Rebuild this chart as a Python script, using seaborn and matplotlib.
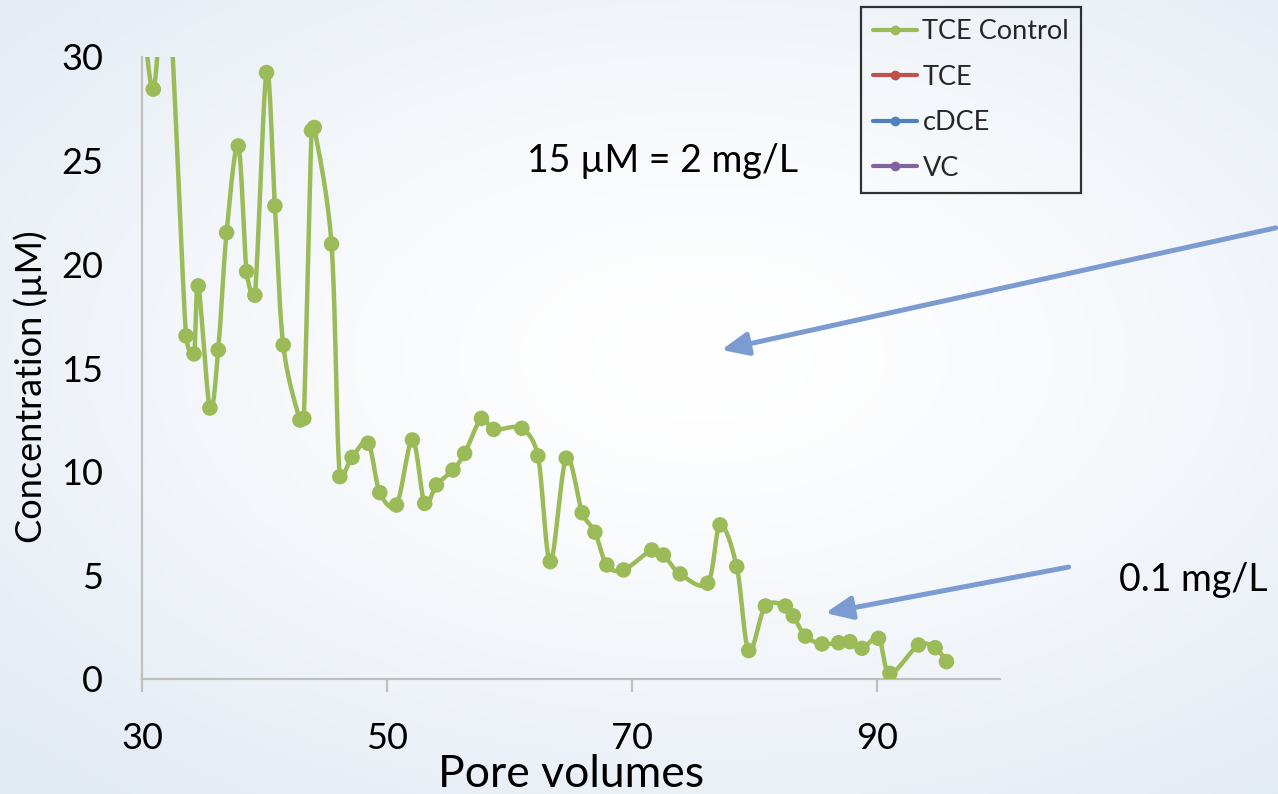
import numpy as np
import pandas as pd
import matplotlib
matplotlib.use("Agg")
import matplotlib.pyplot as plt
from matplotlib.lines import Line2D
import seaborn as sns

# ---------------- data ----------------
pore_volumes = [30.05, 30.92, 32.1, 33.59, 34.24, 34.59, 35.54, 36.22, 36.90, 37.85,
                38.53, 39.21, 40.16, 40.84, 41.52, 42.88, 43.20, 43.83, 44.05, 45.46,
                46.14, 47.14, 48.45, 49.40, 50.76, 52.06, 53.06, 54.02, 55.37, 56.32,
                57.69, 58.69, 60.99, 62.30, 63.31, 64.61, 65.91, 66.95, 67.92, 69.28,
                71.59, 72.54, 73.90, 76.15, 77.16, 78.52, 79.50, 80.86, 82.49, 83.14,
                84.12, 85.48, 86.83, 87.76, 88.74, 90.09, 91.02, 93.35, 94.71, 95.63]
tce_control = [32.5, 28.45, 33.5, 16.55, 15.68, 18.96, 13.07, 15.87, 21.53, 25.71,
               19.65, 18.51, 29.25, 22.82, 16.11, 12.49, 12.57, 26.45, 26.6, 20.98,
               9.76, 10.69, 11.37, 8.99, 8.39, 11.53, 8.47, 9.36, 10.08, 10.88,
               12.57, 12.04, 12.09, 10.76, 5.66, 10.65, 8.02, 7.08, 5.50, 5.26,
               6.22, 5.98, 5.07, 4.62, 7.43, 5.42, 1.37, 3.52, 3.52, 3.04,
               2.07, 1.69, 1.75, 1.80, 1.48, 1.96, 0.27, 1.64, 1.51, 0.84]

series_names = ["TCE Control", "TCE", "cDCE", "VC"]
series_colors = ["#9BBB59", "#C0504D", "#4F81BD", "#8064A2"]
x_ticks = [30, 50, 70, 90]
y_ticks = [0, 5, 10, 15, 20, 25, 30]
note_main = "15 \u00b5M = 2 mg/L"
note_low = "0.1 mg/L"


def smooth_curve(x, y, sx=12.26, sy=20.73, n=30):
    """Bezier smoothing (Excel-like), with arms clamped to avoid overshoot."""
    P = np.column_stack([np.asarray(x, float) * sx, np.asarray(y, float) * sy])
    N = len(P)
    tang = np.zeros_like(P)
    for i in range(N):
        a = P[max(i - 1, 0)]
        b = P[min(i + 1, N - 1)]
        tang[i] = (b - a) / 6.0
    t = np.linspace(0, 1, n, endpoint=False)[:, None]
    out = []
    for i in range(N - 1):
        p1, p2 = P[i], P[i + 1]
        seg = np.linalg.norm(p2 - p1)
        a1 = tang[i].copy()
        a2 = tang[i + 1].copy()
        for arm in (a1, a2):
            L = np.linalg.norm(arm)
            if L > 0.45 * seg:
                arm *= 0.45 * seg / L
        c1 = p1 + a1
        c2 = p2 - a2
        B = ((1 - t) ** 3) * p1 + 3 * ((1 - t) ** 2) * t * c1 + 3 * (1 - t) * t ** 2 * c2 + t ** 3 * p2
        out.append(B)
    out.append(P[-1][None, :])
    S = np.vstack(out)
    return S[:, 0] / sx, S[:, 1] / sy


FONT = ["Lato", "DejaVu Sans"]
sns.set_theme(style="white")
plt.rcParams["font.family"] = FONT

fig = plt.figure(figsize=(12.78, 7.94), dpi=100)

# slide-like background gradient
bg = fig.add_axes([0, 0, 1, 1], zorder=-10)
gy, gx = np.mgrid[0:1:200j, 0:1:300j]
d = np.clip(np.sqrt(((gx - 0.55) / 0.75) ** 2 + ((gy - 0.45) / 0.7) ** 2), 0, 1)
edge = np.array([0.89, 0.92, 0.955])
white = np.array([1.0, 1.0, 1.0])
w = d[..., None] ** 1.4
img = white[None, None, :] * (1 - w) + edge[None, None, :] * w
bg.imshow(img, aspect="auto", extent=[0, 1, 0, 1], origin="upper")
bg.axis("off")

ax = fig.add_axes([142 / 1278, 1 - 679 / 794, 858 / 1278, 622 / 794])
ax.patch.set_alpha(0)

cx, cy = smooth_curve(pore_volumes, tce_control)
smooth = pd.DataFrame({"x": cx, "y": cy})
pts = pd.DataFrame({"x": pore_volumes, "y": tce_control})
sns.lineplot(data=smooth, x="x", y="y", sort=False, estimator=None, ax=ax,
             color=series_colors[0], lw=3.2, zorder=3)
sns.scatterplot(data=pts, x="x", y="y", ax=ax, color=series_colors[0], s=125,
                edgecolor="none", zorder=4)

ax.set_xlim(30, 100)
ax.set_ylim(0, 30)
ax.set_xticks(x_ticks)
ax.set_yticks(y_ticks)
for s in ["top", "right"]:
    ax.spines[s].set_visible(False)
for s in ["left", "bottom"]:
    ax.spines[s].set_color("#BFBFBF")
    ax.spines[s].set_linewidth(1.6)
ax.tick_params(axis="x", direction="out", length=9, width=1.6, color="#BFBFBF",
               labelsize=26, pad=22, labelcolor="black", bottom=True)
ax.tick_params(axis="y", length=0, labelsize=26, pad=28, labelcolor="black", left=False)
ax.set_xlabel("Pore volumes", fontsize=32, color="black", va="top")
ax.xaxis.set_label_coords(0.5, (679 - 754) / 622)
ax.set_ylabel("Concentration (\u00b5M)", fontsize=26, color="black")
ax.yaxis.set_label_coords((48 - 142) / 858, (679 - 387) / 622)

ax.text(72.5, 25.0, note_main, fontsize=27, ha="center", va="center", color="black")
ax.text(115.8, 4.78, note_low, fontsize=27, ha="center", va="center", color="black",
        clip_on=False)

arrow_color = "#7B9BD1"
for head, tail in [((77.27, 15.87), (122.5, 21.76)), ((85.75, 3.18), (105.6, 5.40))]:
    ax.annotate("", xy=head, xytext=tail, annotation_clip=False,
                arrowprops=dict(arrowstyle="-|>,head_length=0.8,head_width=0.35",
                                color=arrow_color, lw=3.6, mutation_scale=20,
                                shrinkA=0, shrinkB=0))

handles = [Line2D([0], [0], color=c, lw=3, marker="o", markersize=6) for c in series_colors]
leg = fig.legend(handles, series_names, loc="upper left",
                 bbox_to_anchor=(861 / 1278, 1 - 7 / 794), fontsize=19.5, frameon=True,
                 fancybox=False, handlelength=1.6, handletextpad=0.22,
                 labelspacing=0.76, borderpad=0.45, borderaxespad=0)
frame = leg.get_frame()
frame.set_facecolor("none")
frame.set_edgecolor("black")
frame.set_linewidth(1.6)

fig.savefig("out.png", dpi=100)
